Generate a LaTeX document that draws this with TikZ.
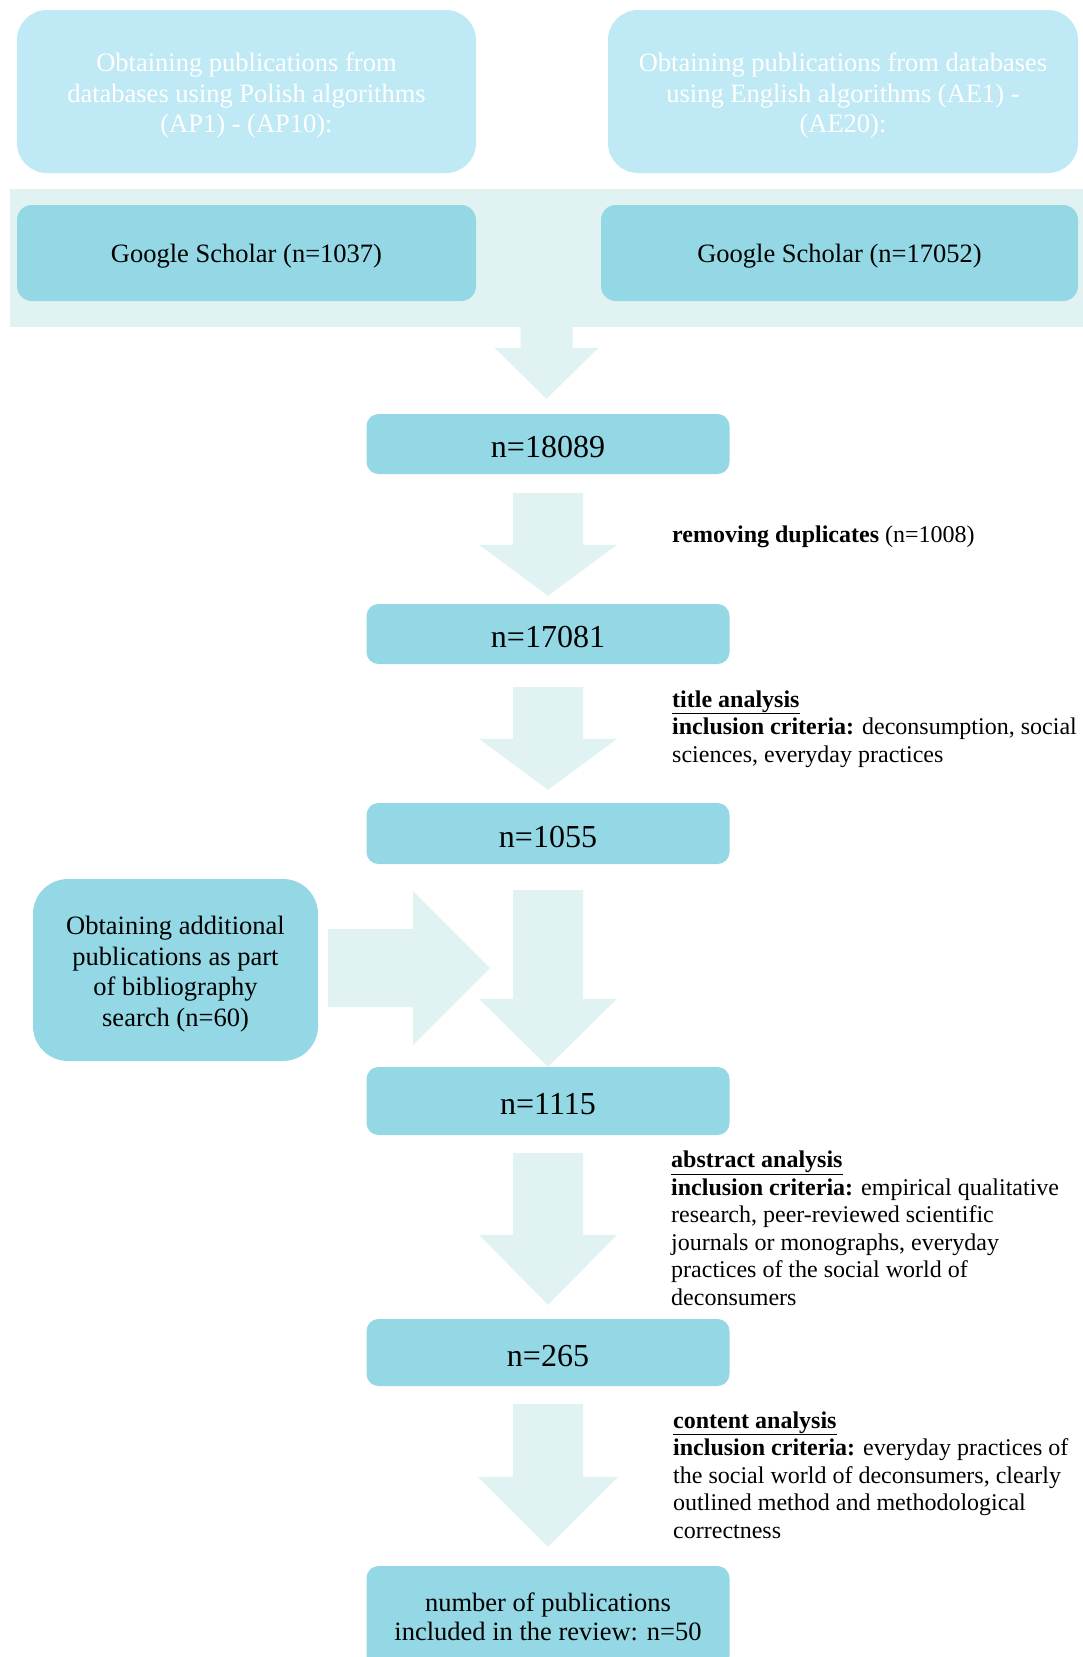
\documentclass[tikz,border=0pt]{standalone}
\usepackage{fontspec}
\setmainfont{Liberation Serif}
\usetikzlibrary{calc}

\definecolor{toplight}{HTML}{BFE9F4}
\definecolor{boxblue}{HTML}{93D8E4}
\definecolor{flowpale}{HTML}{E0F2F2}

\tikzset{
  topbox/.style={fill=toplight, text=white, rounded corners=30pt, inner sep=0pt,
    align=center, text height=88pt, text depth=5.8pt,
    font=\fontsize{26.5}{30.6}\selectfont},
  gsbox/.style={fill=boxblue, rounded corners=15pt, inner sep=0pt,
    text height=24.5pt, text depth=5.7pt, font=\fontsize{26.5}{30.6}\selectfont},
  countbox/.style={fill=boxblue, rounded corners=12pt, inner sep=0pt,
    minimum width=363pt, text height=27pt, text depth=0pt,
    font=\fontsize{32}{36}\selectfont},
  note/.style={anchor=base west, align=left, inner sep=0pt,
    font=\fontsize{24}{27.5}\selectfont},
  flow/.style={fill=flowpale},
}

% block arrow pointing down: from, to, gap top, gap tip, half shaft, half head, head length
\newcommand{\flowdown}[7]{%
  \path ($(#1.south)+(0,#3)$) coordinate (ft)
        ($(#1.south |- #2.north)+(0,-#4)$) coordinate (fb);
  \fill[flow] ($(ft)+(-#5,0)$) -- ($(ft)+(#5,0)$) -- ($(fb)+(#5,-#7)$)
    -- ($(fb)+(#6,-#7)$) -- (fb) -- ($(fb)+(-#6,-#7)$)
    -- ($(fb)+(-#5,-#7)$) -- cycle;}

\begin{document}
\begin{tikzpicture}[x=1pt, y=-1pt]
  \useasboundingbox (0,0) rectangle (1083,1657);
  \clip (0,0) rectangle (1083,1657);

  \node[topbox, minimum width=459pt, minimum height=163pt] (polish) at (246.5,91.5)
    {Obtaining publications from\\databases using Polish algorithms\\(AP1) - (AP10):};
  \node[topbox, minimum width=470pt, minimum height=163pt] (english) at (843,91.5)
    {Obtaining publications from databases\\using English algorithms (AE1) -\\(AE20):};

  \node[flow, minimum width=1073pt, minimum height=138pt, inner sep=0pt] (band) at (546.5,258) {};
  \node[gsbox, minimum width=459pt, minimum height=96pt] (gsPL) at (246.5,253) {Google Scholar (n=1037)};
  \node[gsbox, minimum width=477pt, minimum height=96pt] (gsEN) at (839.5,253) {Google Scholar (n=17052)};

  \node[countbox, minimum height=60pt] (all) at (548,444) {n=18089};
  \node[countbox, minimum height=60pt] (nodup) at (548,634) {n=17081};
  \node[countbox, minimum height=61pt] (titles) at (548,833.5) {n=1055};
  \node[countbox, minimum height=68pt] (merged) at (548,1101) {n=1115};
  \node[countbox, minimum height=67pt] (abstracts) at (548,1352.5) {n=265};
  \node[countbox, minimum height=102pt, align=center, text height=, text depth=,
    font=\fontsize{26.5}{29.5}\selectfont]
    (final) at (548,1617) {number of publications\\included in the review: n=50};

  \node[gsbox, rounded corners=35pt, minimum width=285pt, minimum height=182pt, align=center,
    text height=118.2pt, text depth=5.8pt]
    (extra) at (175.5,970) {Obtaining additional\\publications as part\\of bibliography\\search (n=60)};

  \flowdown{band}{all}{0}{15}{26}{52}{51}
  \flowdown{all}{nodup}{19}{8}{35}{69}{51}
  \flowdown{nodup}{titles}{23}{13}{35}{69}{51}
  \flowdown{titles}{merged}{26}{0}{35}{69}{68}
  \flowdown{merged}{abstracts}{18}{14}{35}{69}{70}
  \flowdown{abstracts}{final}{18}{19}{35}{70}{70}

  \coordinate (rs) at ($(extra.east)+(10,-2)$);
  \coordinate (rt) at (490,968);
  \fill[flow] ($(rs)+(0,-39)$) -- ($(rt)+(-77,-39)$) -- ($(rt)+(-77,-77)$) -- (rt)
    -- ($(rt)+(-77,77)$) -- ($(rt)+(-77,39)$) -- ($(rs)+(0,39)$) -- cycle;

  \node[note] (dup) at (672,542) {\textbf{removing duplicates} (n=1008)};
  \node[note] (title) at (672,762) {\underline{\textbf{title analysis}}\\
    \textbf{inclusion criteria:} deconsumption, social\\sciences, everyday practices};
  \node[note] (abstract) at (671,1305) {\underline{\textbf{abstract analysis}}\\
    \textbf{inclusion criteria:} empirical qualitative\\research, peer-reviewed scientific\\
    journals or monographs, everyday\\practices of the social world of\\deconsumers};
  \node[note] (content) at (673,1538) {\underline{\textbf{content analysis}}\\
    \textbf{inclusion criteria:} everyday practices of\\the social world of deconsumers, clearly\\
    outlined method and methodological\\correctness};
\end{tikzpicture}
\end{document}
